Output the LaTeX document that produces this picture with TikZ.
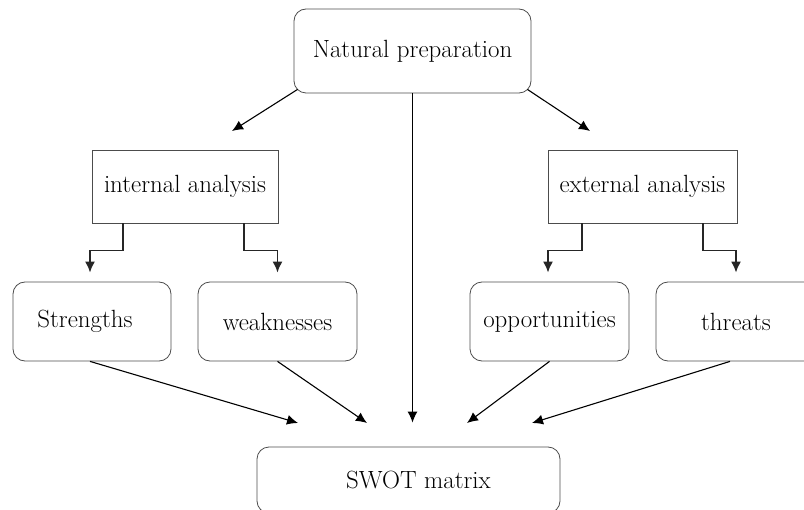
\documentclass[tikz,border=0pt]{standalone}
\usepackage{xcolor}
\usepackage{tikz}
\usetikzlibrary{positioning,arrows.meta}

\begin{document}
\begin{tikzpicture}[x=1bp,y=-1bp,
    box/.style={draw=black!70,line width=0.8bp,rounded corners=12bp,inner sep=0pt,font=\fontsize{25}{29}\selectfont},
    sqbox/.style={draw=black!70,line width=0.8bp,inner sep=0pt,font=\fontsize{25}{29}\selectfont},
    arr/.style={-{Latex[length=11bp,width=10bp]},line width=1.1bp},
    elbow/.style={-{Latex[length=11bp,width=10bp]},line width=1.7bp,black!85}]
    \useasboundingbox (0,0) rectangle (804,510);
    % boxes
    \node[box,minimum width=237bp,minimum height=84bp] (np) at (412.5,51) {Natural preparation};
    \node[sqbox,minimum width=186bp,minimum height=73bp] (int) at (185,186.5) {internal analysis};
    \node[sqbox,minimum width=189bp,minimum height=73bp] (ext) at (642.5,186.5) {external analysis};
    \node[box,minimum width=158bp,minimum height=79bp] (str) at (92,321.5) {\hspace*{-14bp}Strengths};
    \node[box,minimum width=159bp,minimum height=79bp] (weak) at (277.5,321.5) {weaknesses};
    \node[box,minimum width=159bp,minimum height=79bp] (opp) at (549.5,321.5) {opportunities};
    \node[box,minimum width=160bp,minimum height=79bp] (thr) at (736,321.5) {threats};
    \node[box,minimum width=303bp,minimum height=66bp] (swot) at (408.5,480) {\hspace*{20bp}SWOT matrix};
    % arrow tips
    \coordinate (tint) at (232,131);
    \coordinate (text) at (590,131);
    \coordinate (tstr) at (298,423);
    \coordinate (tweak) at (367,423);
    \coordinate (topp) at (467,423);
    \coordinate (tthr) at (532,423);
    % connectors
    \draw[arr] ([xshift=4bp,yshift=4bp]np.south west) -- (tint);
    \draw[arr] ([xshift=-4bp,yshift=4bp]np.south east) -- (text);
    \draw[arr] (np.south) -- ([yshift=24bp]np.south |- swot.north);
    \draw[elbow] ([xshift=-62bp]int.south) -- ++(0,27) -| ([xshift=-2bp,yshift=9bp]str.north);
    \draw[elbow] ([xshift=59bp]int.south) -- ++(0,27) -| ([yshift=9bp]weak.north);
    \draw[elbow] ([xshift=-60.5bp]ext.south) -- ++(0,27) -| ([xshift=-1.5bp,yshift=9bp]opp.north);
    \draw[elbow] ([xshift=60.5bp]ext.south) -- ++(0,27) -| ([yshift=9bp]thr.north);
    \draw[arr] ([xshift=-2bp]str.south) -- (tstr);
    \draw[arr] (weak.south) -- (tweak);
    \draw[arr] (opp.south) -- (topp);
    \draw[arr] ([xshift=-6bp]thr.south) -- (tthr);
\end{tikzpicture}
\end{document}
